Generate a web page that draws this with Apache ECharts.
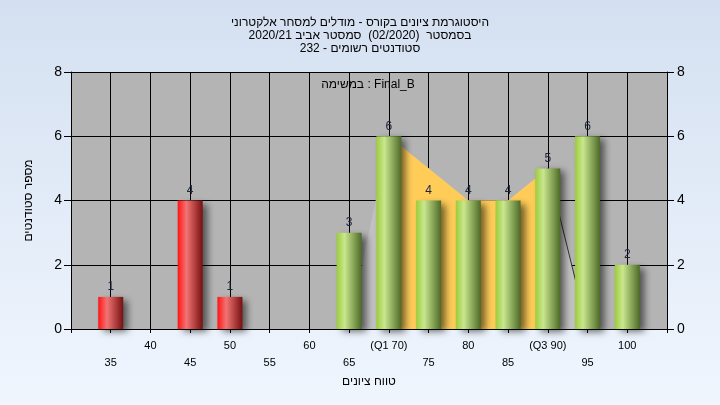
<!DOCTYPE html>
<html>
<head>
<meta charset="utf-8">
<script src="https://cdn.jsdelivr.net/npm/echarts@6/dist/echarts.min.js"></script>
<style>html,body{margin:0;padding:0;}#c{width:720px;height:405px;}</style>
</head>
<body>
<div id="c"></div>
<script>
// ---- data ----
const grades = [35, 45, 50, 65, 70, 75, 80, 85, 90, 95, 100];
const counts = [1, 4, 1, 3, 6, 4, 4, 4, 5, 6, 2];
const passGrade = 55;
const iqrX = [70, 80, 85, 90];          // Q1..Q3 outline points
const iqrY = [6, 4, 4, 5];
const outerX = [65, 70, 80, 85, 90, 95];
const outerY = [0, 6, 4, 4, 5, 0];
const tailX = [90, 95];
const tailY = [5, 0];
const topRowTicks = [40, 50, 60, 70, 80, 90, 100];
const topRowLabels = ['40', '50', '60', '(Q1 70)', '80', '(Q3 90)', '100'];
const bottomRowTicks = [35, 45, 55, 65, 75, 85, 95];
const bottomRowLabels = ['35', '45', '55', '65', '75', '85', '95'];
const yTicks = [0, 2, 4, 6, 8];
const titleLines = [
  'היסטוגרמת ציונים בקורס - מודלים למסחר אלקטרוני',
  'בסמסטר  (02/2020)  סמסטר אביב 2020/21',
  'סטודנטים רשומים - 232'
];
const taskLabel = 'במשימה : Final_B';
const xName = 'טווח ציונים';
const yName = 'מספר סטודנטים';

const FONT = 'Liberation Sans';

const redGrad = new echarts.graphic.LinearGradient(0, 0, 1, 0, [
  {offset: 0, color: '#ff1414'}, {offset: 0.35, color: '#f27474'}, {offset: 1, color: '#761010'}
]);
const greenGrad = new echarts.graphic.LinearGradient(0, 0, 1, 0, [
  {offset: 0, color: '#9ccc3a'}, {offset: 0.32, color: '#c9e78e'}, {offset: 1, color: '#4d6a27'}
]);

const barData = grades.map((g, i) => ({
  value: [g, counts[i]],
  itemStyle: {color: g < passGrade ? redGrad : greenGrad}
}));
const pts = (xs, ys) => xs.map((x, i) => [x, ys[i]]);

function xLabel(v) {
  let i = topRowTicks.indexOf(v);
  if (i >= 0) return topRowLabels[i];
  i = bottomRowTicks.indexOf(v);
  if (i >= 0) return '\n' + bottomRowLabels[i];
  return '';
}

const chart = echarts.init(document.getElementById('c'));
chart.setOption({
  animation: false,
  backgroundColor: new echarts.graphic.LinearGradient(0, 0, 0, 1, [
    {offset: 0, color: '#d4e0f1'}, {offset: 1, color: '#f0f6fe'}
  ]),
  textStyle: {fontFamily: FONT},
  title: {
    text: titleLines.join('\n'),
    left: 'center',
    top: 11,
    textStyle: {fontSize: 12, fontWeight: 'normal', color: '#000', lineHeight: 13, fontFamily: FONT}
  },
  graphic: [{
    type: 'text', x: 368, y: 85, z: 100,
    style: {text: taskLabel, align: 'center', verticalAlign: 'middle', fontSize: 12, fill: '#000', fontFamily: FONT}
  }],
  grid: {left: 71, right: 53, top: 72, bottom: 76, show: true, backgroundColor: '#b4b4b4', borderWidth: 0},
  xAxis: {
    type: 'value', min: 30, max: 105, interval: 5,
    name: xName, nameLocation: 'middle', nameGap: 45,
    nameTextStyle: {fontSize: 12, color: '#000', fontFamily: FONT},
    axisLine: {show: true, lineStyle: {color: '#000', width: 1}},
    axisTick: {show: true, length: 4, lineStyle: {color: '#000'}},
    axisLabel: {formatter: xLabel, fontSize: 11, color: '#000', lineHeight: 17, margin: 8, showMinLabel: true, showMaxLabel: true},
    splitLine: {show: true, lineStyle: {color: '#000', width: 1}}
  },
  yAxis: [{
    type: 'value', min: 0, max: 8, interval: 2, position: 'left',
    name: yName, nameLocation: 'middle', nameGap: 36,
    nameTextStyle: {fontSize: 12, color: '#000', fontFamily: FONT},
    axisLine: {show: true, lineStyle: {color: '#000'}},
    axisTick: {show: true, length: 7, lineStyle: {color: '#000'}},
    axisLabel: {fontSize: 14, color: '#000', margin: 9, formatter: v => yTicks.indexOf(v) >= 0 ? String(v) : ''},
    splitLine: {show: true, lineStyle: {color: '#000', width: 1}}
  }, {
    type: 'value', min: 0, max: 8, interval: 2, position: 'right',
    axisLine: {show: true, lineStyle: {color: '#000'}},
    axisTick: {show: true, length: 7, lineStyle: {color: '#000'}},
    axisLabel: {fontSize: 14, color: '#000', margin: 10, formatter: v => yTicks.indexOf(v) >= 0 ? String(v) : ''},
    splitLine: {show: false}
  }],
  series: [{
    type: 'line', data: pts(outerX, outerY), symbol: 'none', z: 1,
    lineStyle: {width: 0, opacity: 0},
    areaStyle: {color: '#c1c1c1', opacity: 1}
  }, {
    type: 'line', data: pts(iqrX, iqrY), symbol: 'none', z: 2,
    lineStyle: {width: 0, opacity: 0},
    areaStyle: {color: '#ffcc58', opacity: 1}
  }, {
    type: 'line', data: pts(tailX, tailY), symbol: 'none', z: 3,
    lineStyle: {width: 1, color: '#303030'}
  }, {
    type: 'bar', data: barData, barWidth: 25, z: 5,
    itemStyle: {shadowColor: 'rgba(0,0,0,0.55)', shadowBlur: 7, shadowOffsetX: 5, shadowOffsetY: 3},
    label: {show: true, position: 'top', distance: 4, fontSize: 12, color: '#1c2438', formatter: p => String(p.value[1])}
  }]
});
</script>
</body>
</html>
